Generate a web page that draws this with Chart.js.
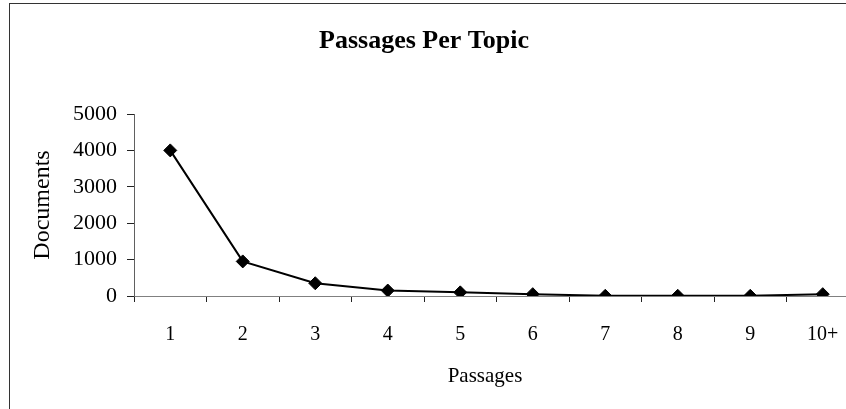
<!DOCTYPE html>
<html>
<head>
<meta charset="utf-8">
<script src="https://cdn.jsdelivr.net/npm/chart.js@4/dist/chart.umd.min.js"></script>
<style>
  html, body { margin: 0; padding: 0; background: #fff; overflow: hidden; width: 846px; height: 409px; }
  #frame {
    position: absolute; left: 9px; top: 3px;
    width: 900px; height: 440px;
    border-left: 1px solid #333; border-top: 1px solid #333;
    background: #fff;
  }
  #chart { position: absolute; left: 0; top: 0; }
</style>
</head>
<body>
<div id="frame"><canvas id="chart" width="870" height="385"></canvas></div>
<script>
// Number of passages per topic and how many documents fall in each bucket
const passages = ['1', '2', '3', '4', '5', '6', '7', '8', '9', '10+'];
const documents = [4000, 950, 350, 150, 100, 50, 5, 5, 5, 50];
const yTicks = [0, 1000, 2000, 3000, 4000, 5000];

const titleText = 'Passages Per Topic';
const xTitleText = 'Passages';
const serif = "'Liberation Serif', 'Times New Roman', serif";

// Chart heading and the x axis caption, both set slightly left of the plot middle
const captionPlugin = {
  id: 'captions',
  afterDraw(chart) {
    const ctx = chart.ctx;
    const xs = chart.scales.x;
    ctx.save();
    ctx.fillStyle = '#000';
    ctx.textAlign = 'center';
    ctx.textBaseline = 'alphabetic';
    ctx.font = 'bold 26px ' + serif;
    ctx.fillText(titleText, 414, 44);
    ctx.font = '21px ' + serif;
    ctx.fillText(xTitleText, 475, xs.top + 86);
    ctx.restore();
  }
};

new Chart(document.getElementById('chart'), {
  type: 'line',
  data: {
    labels: passages,
    datasets: [{
      data: documents,
      borderColor: '#000',
      borderWidth: 2,
      backgroundColor: '#000',
      pointStyle: 'rectRot',
      pointRadius: 6.5,
      pointBorderWidth: 1,
      pointBorderColor: '#000',
      pointBackgroundColor: '#000',
      tension: 0,
      fill: false
    }]
  },
  options: {
    responsive: false,
    devicePixelRatio: 1,
    animation: false,
    layout: { padding: { top: 110, left: 0, right: 21, bottom: 0 } },
    plugins: {
      legend: { display: false },
      title: { display: false },
      tooltip: { enabled: false }
    },
    scales: {
      x: {
        type: 'category',
        offset: true,
        grid: { offset: true, drawOnChartArea: false, drawTicks: true, tickLength: 6, color: '#222', lineWidth: 1 },
        border: { display: true, color: '#808080', width: 1 },
        ticks: { color: '#000', font: { family: serif, size: 20 }, padding: 21, maxRotation: 0, autoSkip: false },
        title: { display: false },
        afterFit(scale) { scale.height = 93; }
      },
      y: {
        min: 0,
        max: 5000,
        afterBuildTicks(scale) { scale.ticks = yTicks.map(v => ({ value: v })); },
        grid: { drawOnChartArea: false, drawTicks: true, tickLength: 7, color: '#222', lineWidth: 1 },
        border: { display: true, color: '#606060', width: 1 },
        ticks: { color: '#000', font: { family: serif, size: 22 }, padding: 10, callback: v => String(v) },
        title: { display: true, text: 'Documents', color: '#000', font: { family: serif, size: 24 }, padding: { top: 18, bottom: 0 } },
        afterFit(scale) { scale.width = 124; }
      }
    }
  },
  plugins: [captionPlugin]
});
</script>
</body>
</html>
